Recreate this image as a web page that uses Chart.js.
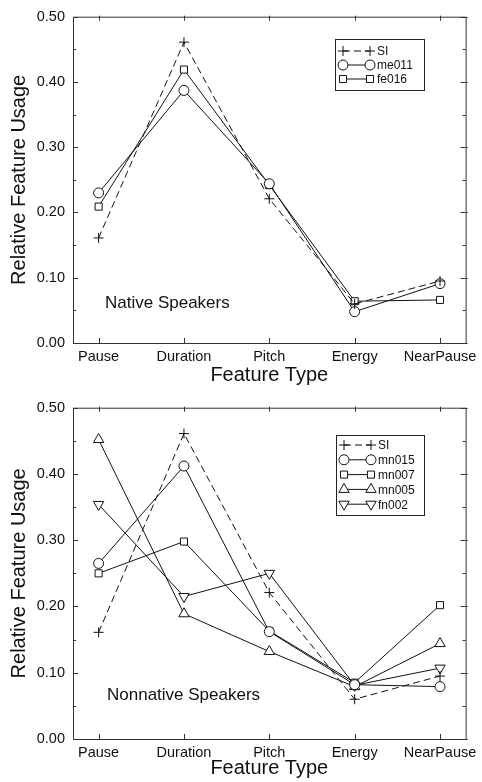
<!DOCTYPE html>
<html>
<head>
<meta charset="utf-8">
<script src="https://cdn.jsdelivr.net/npm/chart.js@4.4.1/dist/chart.umd.min.js"></script>
<style>
  html, body { margin: 0; padding: 0; background: #fff; }
  .box { position: relative; width: 482px; height: 391px; }
</style>
</head>
<body>
<div class="box"><canvas id="nativeChart"></canvas></div>
<div class="box"><canvas id="nonnativeChart"></canvas></div>
<script>
// feature categories along x
const CATEGORIES = ["Pause", "Duration", "Pitch", "Energy", "NearPause"];
const Y_TICKS = [0, 0.1, 0.2, 0.3, 0.4, 0.5];

// native speakers
const SI = [0.161, 0.461, 0.221, 0.060, 0.095];
const ME011 = [0.230, 0.387, 0.244, 0.048, 0.091];
const FE016 = [0.209, 0.419, 0.242, 0.064, 0.066];

// nonnative speakers
const MN015 = [0.265, 0.412, 0.162, 0.082, 0.079];
const MN007 = [0.250, 0.298, 0.163, 0.085, 0.202];
const MN005 = [0.452, 0.189, 0.132, 0.079, 0.144];
const FN002 = [0.354, 0.215, 0.250, 0.081, 0.107];

const FONT = "'Liberation Sans', Arial, Helvetica, sans-serif";
const INK = "#111";

const toPoints = arr => arr.map((v, i) => ({ x: i, y: v }));

function series(label, vals, style, opts = {}) {
  return {
    label,
    data: toPoints(vals),
    borderColor: INK,
    borderWidth: 1,
    borderDash: opts.dash || [],
    pointStyle: style,
    pointRadius: opts.r || 5,
    pointRotation: opts.rot || 0,
    pointBorderColor: INK,
    pointBackgroundColor: "#fff",
    pointBorderWidth: 1,
    tension: 0,
    fill: false,
  };
}

// marker for the boxed legend
function drawMarker(ctx, style, x, y, r, rot) {
  ctx.save();
  ctx.translate(x, y);
  ctx.rotate((rot || 0) * Math.PI / 180);
  ctx.beginPath();
  if (style === "circle") {
    ctx.arc(0, 0, r, 0, Math.PI * 2);
  } else if (style === "rect") {
    const s = r * Math.SQRT1_2;
    ctx.rect(-s, -s, 2 * s, 2 * s);
  } else if (style === "triangle") {
    ctx.moveTo(0, -r);
    ctx.lineTo(r * 0.866, r * 0.5);
    ctx.lineTo(-r * 0.866, r * 0.5);
    ctx.closePath();
  } else if (style === "cross") {
    ctx.moveTo(-r, 0); ctx.lineTo(r, 0);
    ctx.moveTo(0, -r); ctx.lineTo(0, r);
  }
  ctx.fillStyle = "#fff";
  if (style !== "cross") ctx.fill();
  ctx.strokeStyle = INK;
  ctx.lineWidth = 1;
  ctx.stroke();
  ctx.restore();
}

// frame, inward ticks, boxed legend and the panel note
const decorPlugin = {
  id: "decor",
  afterDraw(chart, args, opts) {
    const { ctx, chartArea: a, scales: { x, y } } = chart;
    ctx.save();
    ctx.strokeStyle = "#333";
    ctx.lineWidth = 1;
    ctx.strokeRect(a.left + 0.5, a.top + 0.5, a.right - a.left, a.bottom - a.top);

    ctx.beginPath();
    for (let v = 0; v <= 0.5001; v += 0.05) {
      const py = Math.round(y.getPixelForValue(v)) + 0.5;
      const major = Math.abs(v * 10 - Math.round(v * 10)) < 1e-6;
      const len = major ? 5 : 3;
      ctx.moveTo(a.left, py); ctx.lineTo(a.left + len, py);
      ctx.moveTo(a.right, py); ctx.lineTo(a.right - len, py);
      if (major) { ctx.moveTo(a.right, py); ctx.lineTo(a.right + 2, py); }
    }
    CATEGORIES.forEach((c, i) => {
      const px = Math.round(x.getPixelForValue(i)) + 0.5;
      ctx.moveTo(px, a.bottom); ctx.lineTo(px, a.bottom - 5);
      ctx.moveTo(px, a.top - 1); ctx.lineTo(px, a.top + 4);
    });
    ctx.stroke();

    // legend box
    const L = opts.legend;
    ctx.strokeStyle = "#222";
    ctx.strokeRect(L.x + 0.5, L.y + 0.5, L.w, L.h);
    ctx.font = "12px " + FONT;
    ctx.fillStyle = INK;
    ctx.textBaseline = "middle";
    chart.data.datasets.forEach((ds, i) => {
      const ry = L.y + L.first + i * L.step;
      const x1 = L.x + 8, x2 = L.x + 35;
      ctx.beginPath();
      ctx.setLineDash(ds.borderDash);
      ctx.strokeStyle = INK;
      ctx.moveTo(x1, ry); ctx.lineTo(x2, ry);
      ctx.stroke();
      ctx.setLineDash([]);
      drawMarker(ctx, ds.pointStyle, x1, ry, ds.pointRadius, ds.pointRotation);
      drawMarker(ctx, ds.pointStyle, x2, ry, ds.pointRadius, ds.pointRotation);
      ctx.fillStyle = INK;
      ctx.fillText(ds.label, x2 + 7, ry + 1);
    });

    ctx.font = "17px " + FONT;
    ctx.textBaseline = "middle";
    ctx.fillText(opts.note.text, opts.note.x, opts.note.y);
    ctx.restore();
  }
};

function makeChart(id, datasets, cfg) {
  return new Chart(document.getElementById(id).getContext("2d"), {
    type: "line",
    data: { datasets },
    plugins: [decorPlugin],
    options: {
      responsive: true,
      maintainAspectRatio: false,
      animation: false,
      layout: { padding: { top: cfg.top, right: 11, left: 0, bottom: 0 } },
      plugins: {
        legend: { display: false },
        tooltip: { enabled: false },
        decor: { legend: cfg.legend, note: cfg.note },
      },
      scales: {
        x: {
          type: "linear",
          min: -0.3,
          max: 4.3,
          afterBuildTicks: s => { s.ticks = CATEGORIES.map((c, i) => ({ value: i })); },
          afterFit: s => { s.height = cfg.xHeight; },
          grid: { display: false, drawTicks: false },
          border: { display: false },
          ticks: {
            autoSkip: false,
            maxRotation: 0,
            padding: 5,
            color: INK,
            font: { family: FONT, size: 14.5 },
            callback: v => CATEGORIES[v],
          },
          title: {
            display: true,
            text: "Feature Type",
            color: INK,
            font: { family: FONT, size: 20 },
            padding: { top: 0, bottom: cfg.titlePad },
          },
        },
        y: {
          min: 0,
          max: 0.5,
          afterBuildTicks: s => { s.ticks = Y_TICKS.map(v => ({ value: v })); },
          afterFit: s => { s.width = 73; },
          grid: { display: false, drawTicks: false },
          border: { display: false },
          ticks: {
            padding: 8,
            color: INK,
            font: { family: FONT, size: 14.5 },
            callback: v => v.toFixed(2),
          },
          title: {
            display: true,
            text: "Relative Feature Usage",
            color: INK,
            font: { family: FONT, size: 20 },
            padding: { top: 7, bottom: 0 },
          },
        },
      },
    },
  });
}

makeChart("nativeChart", [
  series("SI", SI, "cross", { dash: [7, 4] }),
  series("me011", ME011, "circle"),
  series("fe016", FE016, "rect"),
], {
  top: 11, xHeight: 48, titlePad: 4,
  legend: { x: 335, y: 39, w: 89, h: 51, first: 12, step: 14 },
  note: { text: "Native Speakers", x: 105, y: 303 },
});

makeChart("nonnativeChart", [
  series("SI", SI, "cross", { dash: [7, 4] }),
  series("mn015", MN015, "circle"),
  series("mn007", MN007, "rect"),
  series("mn005", MN005, "triangle", { r: 6 }),
  series("fn002", FN002, "triangle", { r: 6, rot: 180 }),
], {
  top: 16, xHeight: 43, titlePad: 2,
  legend: { x: 336, y: 44, w: 88, h: 80, first: 10, step: 14.8 },
  note: { text: "Nonnative Speakers", x: 107, y: 304 },
});
</script>
</body>
</html>
